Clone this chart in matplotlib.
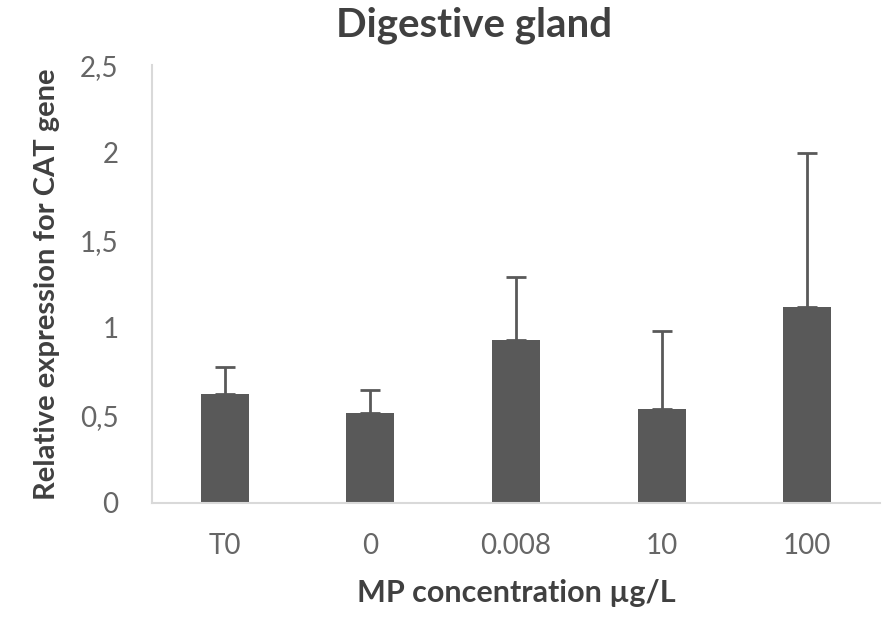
import matplotlib
matplotlib.use("Agg")
import matplotlib.pyplot as plt
import numpy as np

# data
categories = ["T0", "0", "0.008", "10", "100"]
means = [0.622, 0.515, 0.930, 0.535, 1.12]
errors = [0.154, 0.130, 0.360, 0.447, 0.880]
yticks = [0, 0.5, 1, 1.5, 2, 2.5]
ytick_labels = ["0", "0,5", "1", "1,5", "2", "2,5"]

plt.rcParams['font.family'] = ['Lato', 'DejaVu Sans']

fig = plt.figure(figsize=(8.88, 6.2), dpi=100)
ax = fig.add_axes([0.171, 0.189, 0.82, 0.706])

x = np.arange(len(categories))
ax.bar(x, means, width=0.33, color="#595959", zorder=2)
ax.errorbar(x, means, yerr=[np.zeros(len(errors)), errors], fmt="none",
            ecolor="#595959", elinewidth=2, capsize=7, capthick=2, zorder=3)

ax.set_xlim(-0.5, len(categories) - 0.5)
ax.set_ylim(0, 2.5)
ax.set_yticks(yticks)
ax.set_yticklabels(ytick_labels)
ax.set_xticks(x)
ax.set_xticklabels(categories)
ax.tick_params(axis="both", length=0, labelsize=20, labelcolor="#666666")
ax.tick_params(axis="y", pad=24)
ax.tick_params(axis="x", pad=22)

for s in ["top", "right"]:
    ax.spines[s].set_visible(False)
for s in ["left", "bottom"]:
    ax.spines[s].set_color("#d9d9d9")
    ax.spines[s].set_linewidth(1.5)

# title sits a bit left of the axes centre in the reference
fig.text(0.534, 0.96, "Digestive gland", fontsize=29, fontweight="bold",
         color="#404040", ha="center", va="center")
ax.set_xlabel("MP concentration µg/L", fontsize=22, fontweight="bold", color="#404040", labelpad=14)
ax.set_ylabel("Relative expression for CAT gene", fontsize=21, fontweight="bold", color="#404040", labelpad=14)

fig.savefig("out.png", dpi=100)
